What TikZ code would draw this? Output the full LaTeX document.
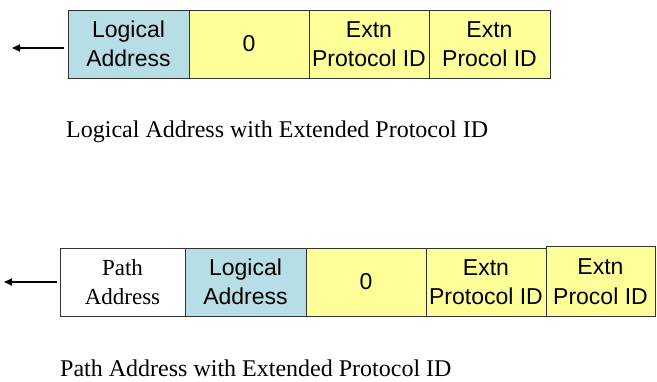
\documentclass[tikz,border=0pt]{standalone}
\usepackage{fontspec}
\setmainfont{Liberation Serif}
\setsansfont{Liberation Sans}
\usetikzlibrary{arrows.meta}
\definecolor{myblue}{RGB}{183,222,230}
\definecolor{myyellow}{RGB}{255,255,153}

\begin{document}
\begin{tikzpicture}[x=1pt,y=-1pt,
        field/.style={draw=black!80, line width=0.8pt, minimum height=68pt, inner sep=0pt, align=center, font=\sffamily\fontsize{23}{29.5}\selectfont},
        caption/.style={anchor=base west, inner sep=0pt, font=\rmfamily\fontsize{24}{28}\selectfont},
        pointer/.style={-{Triangle[length=8pt,width=7pt]}, line width=1.8pt}]
        \useasboundingbox (0,0) rectangle (657,381);

            % first frame
            \node[field, fill=myblue, minimum width=121pt] (LogA) at (128.5,44) {Logical\\Address};
            \node[field, fill=myyellow, minimum width=120pt] (ZeroA) at (249,44) {0};
            \node[field, fill=myyellow, minimum width=120pt] (ExtA) at (369,44) {Extn\\Protocol ID};
            \node[field, fill=myyellow, minimum width=121pt] (ProA) at (489.5,44) {Extn\\Procol ID};
            \coordinate (endA) at (12,48);
            \draw[pointer] ([shift={(-4,4)}]LogA.west) -- (endA);
            \node[caption] (capA) at (66,137) {Logical Address with Extended Protocol ID};

            % second frame
            \node[field, fill=white, minimum width=125pt, font=\rmfamily\fontsize{23}{28.5}\selectfont] (PathB) at (122.5,282) {Path\\Address};
            \node[field, fill=myblue, minimum width=121pt] (LogB) at (245.5,282) {Logical\\Address};
            \node[field, fill=myyellow, minimum width=120pt] (ZeroB) at (366,282) {0};
            \node[field, fill=myyellow, minimum width=120pt] (ExtB) at (486,282) {Extn\\Protocol ID};
            \node[field, fill=myyellow, minimum width=109pt, minimum height=70pt] (ProB) at (600.5,281.5) {Extn\\Procol ID};
            \coordinate (endB) at (4,282);
            \draw[pointer] ([xshift=-3pt]PathB.west) -- (endB);
            \node[caption] (capB) at (60,376) {Path Address with Extended Protocol ID};
        \end{tikzpicture}
\end{document}
